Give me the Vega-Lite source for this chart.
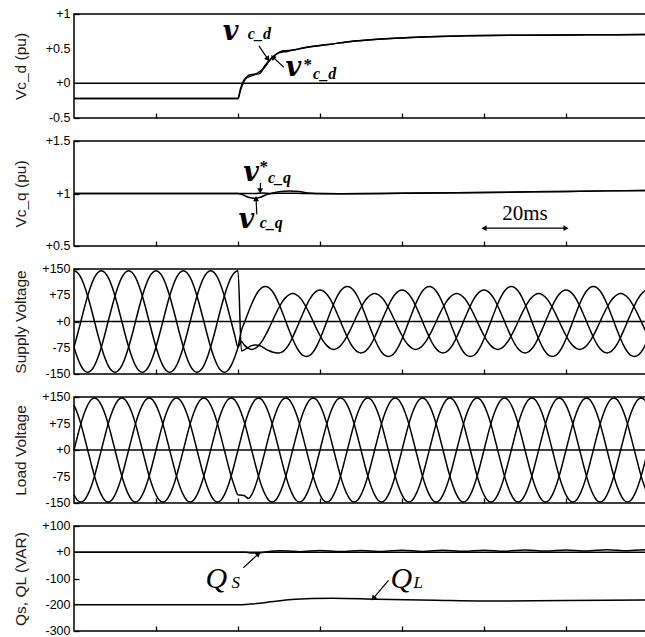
{
"$schema": "https://vega.github.io/schema/vega-lite/v6.json",
"padding": {"left": 12, "top": 7, "right": 0, "bottom": 0},
"spacing": 8,
"config": {
 "view": {"stroke": "#000", "strokeWidth": 1.5},
 "axis": {"grid": false, "domain": false, "titleFont": "Liberation Sans", "titleFontSize": 15.5, "titleFontWeight": "normal", "titleColor": "#1a1a1a", "tickColor": "#000", "tickWidth": 1.3},
 "axisY": {"tickSize": -5, "labels": false, "titleX": -49, "titleBaseline": "alphabetic"},
 "axisX": {"tickSize": -5, "labels": false},
 "line": {"color": "#000", "strokeWidth": 1.5, "clip": true},
 "text": {"color": "#000"}
},
"datasets": {
 "ylab": [
  {"p":"d","v":1,"lab":"+1"},{"p":"d","v":0.5,"lab":"+0.5"},{"p":"d","v":0,"lab":"+0"},{"p":"d","v":-0.5,"lab":"-0.5"},
  {"p":"q","v":1.5,"lab":"+1.5"},{"p":"q","v":1,"lab":"+1"},{"p":"q","v":0.5,"lab":"+0.5"},
  {"p":"s","v":150,"lab":"+150"},{"p":"s","v":75,"lab":"+75"},{"p":"s","v":0,"lab":"+0"},{"p":"s","v":-75,"lab":"-75"},{"p":"s","v":-150,"lab":"-150"},
  {"p":"Q","v":100,"lab":"+100"},{"p":"Q","v":0,"lab":"+0"},{"p":"Q","v":-100,"lab":"-100"},{"p":"Q","v":-200,"lab":"-200"},{"p":"Q","v":-300,"lab":"-300"}
 ],
 "slow": [
  {"p":"d","s":"vc","t":0,"v":-0.22},{"p":"d","s":"vc","t":40,"v":-0.22},{"p":"d","s":"vc","t":40.6,"v":-0.1},{"p":"d","s":"vc","t":41.5,"v":0.03},{"p":"d","s":"vc","t":42.7,"v":0.12},{"p":"d","s":"vc","t":44,"v":0.13},{"p":"d","s":"vc","t":45.3,"v":0.14},{"p":"d","s":"vc","t":46.5,"v":0.25},{"p":"d","s":"vc","t":48.5,"v":0.38},{"p":"d","s":"vc","t":50,"v":0.44},{"p":"d","s":"vc","t":52,"v":0.46},{"p":"d","s":"vc","t":55,"v":0.5},{"p":"d","s":"vc","t":58,"v":0.53},{"p":"d","s":"vc","t":62,"v":0.56},{"p":"d","s":"vc","t":67,"v":0.6},{"p":"d","s":"vc","t":75,"v":0.64},{"p":"d","s":"vc","t":85,"v":0.67},{"p":"d","s":"vc","t":95,"v":0.685},{"p":"d","s":"vc","t":110,"v":0.695},{"p":"d","s":"vc","t":125,"v":0.7},{"p":"d","s":"vc","t":140,"v":0.705},
  {"p":"d","s":"ref","t":0,"v":-0.22},{"p":"d","s":"ref","t":40,"v":-0.22},{"p":"d","s":"ref","t":40.6,"v":-0.08},{"p":"d","s":"ref","t":41.6,"v":0.06},{"p":"d","s":"ref","t":43,"v":0.1},{"p":"d","s":"ref","t":44.5,"v":0.14},{"p":"d","s":"ref","t":46,"v":0.2},{"p":"d","s":"ref","t":48,"v":0.35},{"p":"d","s":"ref","t":49.5,"v":0.43},{"p":"d","s":"ref","t":51,"v":0.47},{"p":"d","s":"ref","t":53.5,"v":0.48},{"p":"d","s":"ref","t":56,"v":0.51},{"p":"d","s":"ref","t":58,"v":0.53},{"p":"d","s":"ref","t":62,"v":0.56},{"p":"d","s":"ref","t":67,"v":0.6},{"p":"d","s":"ref","t":75,"v":0.64},{"p":"d","s":"ref","t":85,"v":0.67},{"p":"d","s":"ref","t":95,"v":0.685},{"p":"d","s":"ref","t":110,"v":0.695},{"p":"d","s":"ref","t":125,"v":0.7},{"p":"d","s":"ref","t":140,"v":0.705},
  {"p":"q","s":"vc","t":0,"v":1},{"p":"q","s":"vc","t":40,"v":1},{"p":"q","s":"vc","t":41,"v":0.99},{"p":"q","s":"vc","t":42.5,"v":0.965},{"p":"q","s":"vc","t":44,"v":0.955},{"p":"q","s":"vc","t":45.5,"v":0.965},{"p":"q","s":"vc","t":47,"v":0.99},{"p":"q","s":"vc","t":48.5,"v":1.005},{"p":"q","s":"vc","t":50.5,"v":1.02},{"p":"q","s":"vc","t":52.5,"v":1.025},{"p":"q","s":"vc","t":55,"v":1.018},{"p":"q","s":"vc","t":57,"v":1.005},{"p":"q","s":"vc","t":59,"v":1},{"p":"q","s":"vc","t":65,"v":0.998},{"p":"q","s":"vc","t":80,"v":1.003},{"p":"q","s":"vc","t":100,"v":1.01},{"p":"q","s":"vc","t":120,"v":1.02},{"p":"q","s":"vc","t":140,"v":1.03},
  {"p":"q","s":"ref","t":0,"v":1},{"p":"q","s":"ref","t":44,"v":1},{"p":"q","s":"ref","t":46,"v":1.005},{"p":"q","s":"ref","t":48,"v":1},{"p":"q","s":"ref","t":52,"v":1.003},{"p":"q","s":"ref","t":56,"v":1},{"p":"q","s":"ref","t":65,"v":0.998},{"p":"q","s":"ref","t":80,"v":1.003},{"p":"q","s":"ref","t":100,"v":1.01},{"p":"q","s":"ref","t":120,"v":1.02},{"p":"q","s":"ref","t":140,"v":1.03},
  {"p":"Q","s":"Qs","t":0,"v":0},{"p":"Q","s":"Qs","t":42,"v":0},{"p":"Q","s":"Qs","t":43.5,"v":-3},{"p":"Q","s":"Qs","t":45.5,"v":-2},{"p":"Q","s":"Qs","t":47.5,"v":3},{"p":"Q","s":"Qs","t":50,"v":6},{"p":"Q","s":"Qs","t":52.5,"v":5},{"p":"Q","s":"Qs","t":55,"v":2},{"p":"Q","s":"Qs","t":60,"v":7},{"p":"Q","s":"Qs","t":65,"v":3},{"p":"Q","s":"Qs","t":70,"v":7},{"p":"Q","s":"Qs","t":75,"v":3},{"p":"Q","s":"Qs","t":80,"v":8},{"p":"Q","s":"Qs","t":85,"v":3},{"p":"Q","s":"Qs","t":90,"v":8},{"p":"Q","s":"Qs","t":95,"v":4},{"p":"Q","s":"Qs","t":100,"v":8},{"p":"Q","s":"Qs","t":105,"v":4},{"p":"Q","s":"Qs","t":110,"v":9},{"p":"Q","s":"Qs","t":115,"v":5},{"p":"Q","s":"Qs","t":120,"v":9},{"p":"Q","s":"Qs","t":125,"v":5},{"p":"Q","s":"Qs","t":130,"v":10},{"p":"Q","s":"Qs","t":135,"v":6},{"p":"Q","s":"Qs","t":140,"v":10},
  {"p":"Q","s":"QL","t":0,"v":-200},{"p":"Q","s":"QL","t":41,"v":-200},{"p":"Q","s":"QL","t":44,"v":-196},{"p":"Q","s":"QL","t":48,"v":-189},{"p":"Q","s":"QL","t":53,"v":-180},{"p":"Q","s":"QL","t":58,"v":-176},{"p":"Q","s":"QL","t":63,"v":-175},{"p":"Q","s":"QL","t":74,"v":-179},{"p":"Q","s":"QL","t":88,"v":-183},{"p":"Q","s":"QL","t":100,"v":-186},{"p":"Q","s":"QL","t":120,"v":-184},{"p":"Q","s":"QL","t":140,"v":-182}
 ],
 "ann": [
  {"p":"d","k":"vbig","t":36.3,"v":0.62,"txt":"v"},
  {"p":"d","k":"vsub","t":42.4,"v":0.64,"txt":"c_d"},
  {"p":"d","k":"vbig","t":51.6,"v":0.1,"txt":"v"},
  {"p":"d","k":"star","t":57,"v":0.27,"txt":"*"},
  {"p":"d","k":"vsub","t":58.3,"v":0.06,"txt":"c_d"},
  {"p":"q","k":"vbig","t":41.3,"v":1.12,"txt":"v"},
  {"p":"q","k":"star","t":46.3,"v":1.25,"txt":"*"},
  {"p":"q","k":"vsub","t":47.3,"v":1.1,"txt":"c_q"},
  {"p":"q","k":"vbig","t":40.1,"v":0.67,"txt":"v"},
  {"p":"q","k":"vsub","t":45.3,"v":0.67,"txt":"c_q"},
  {"p":"q","k":"ms","t":110,"v":0.75,"txt":"20ms"},
  {"p":"Q","k":"Qbig","t":32.1,"v":-137,"txt":"Q"},
  {"p":"Q","k":"Qsub","t":38.4,"v":-137,"txt":"S"},
  {"p":"Q","k":"Qbig","t":77.2,"v":-137,"txt":"Q"},
  {"p":"Q","k":"Qsub","t":82.8,"v":-137,"txt":"L"}
 ],
 "arr": [
  {"id":"a1","p":"d","t":45.1,"v":0.54,"t2":47.3,"v2":0.35},
  {"id":"a2","p":"d","t":51.2,"v":0.23,"t2":48.5,"v2":0.38},
  {"id":"a3","p":"q","t":45.5,"v":1.1,"t2":45.4,"v2":1.025},
  {"id":"a4","p":"q","t":44.6,"v":0.8,"t2":44.4,"v2":0.95},
  {"id":"a5","p":"q","t":100,"v":0.67,"t2":120,"v2":0.67},
  {"id":"a6","p":"Q","t":41.3,"v":-59,"t2":45,"v2":-6},
  {"id":"a7","p":"Q","t":76.7,"v":-107,"t2":73,"v2":-176}
 ],
 "wave": [
{"t":0,"sa":145,"sb":-73,"sc":-73,"la":127,"lb":0,"lc":-127},
{"t":0.83,"sa":140,"sb":-38,"sc":-103,"la":104,"lb":38,"lc":-142},
{"t":1.67,"sa":126,"sb":0,"sc":-126,"la":74,"lb":74,"lc":-147},
{"t":2.5,"sa":103,"sb":38,"sc":-140,"la":38,"lb":104,"lc":-142},
{"t":3.33,"sa":73,"sb":73,"sc":-145,"la":0,"lb":127,"lc":-127},
{"t":4.17,"sa":38,"sb":103,"sc":-140,"la":-38,"lb":142,"lc":-104},
{"t":5,"sa":0,"sb":126,"sc":-126,"la":-74,"lb":147,"lc":-74},
{"t":5.83,"sa":-38,"sb":140,"sc":-103,"la":-104,"lb":142,"lc":-38},
{"t":6.67,"sa":-73,"sb":145,"sc":-73,"la":-127,"lb":127,"lc":0},
{"t":7.5,"sa":-103,"sb":140,"sc":-38,"la":-142,"lb":104,"lc":38},
{"t":8.33,"sa":-126,"sb":126,"sc":0,"la":-147,"lb":74,"lc":74},
{"t":9.17,"sa":-140,"sb":103,"sc":38,"la":-142,"lb":38,"lc":104},
{"t":10,"sa":-145,"sb":73,"sc":73,"la":-127,"lb":0,"lc":127},
{"t":10.83,"sa":-140,"sb":38,"sc":103,"la":-104,"lb":-38,"lc":142},
{"t":11.67,"sa":-126,"sb":0,"sc":126,"la":-74,"lb":-74,"lc":147},
{"t":12.5,"sa":-103,"sb":-38,"sc":140,"la":-38,"lb":-104,"lc":142},
{"t":13.33,"sa":-73,"sb":-73,"sc":145,"la":0,"lb":-127,"lc":127},
{"t":14.17,"sa":-38,"sb":-103,"sc":140,"la":38,"lb":-142,"lc":104},
{"t":15,"sa":0,"sb":-126,"sc":126,"la":74,"lb":-147,"lc":74},
{"t":15.83,"sa":38,"sb":-140,"sc":103,"la":104,"lb":-142,"lc":38},
{"t":16.67,"sa":73,"sb":-145,"sc":73,"la":127,"lb":-127,"lc":0},
{"t":17.5,"sa":103,"sb":-140,"sc":38,"la":142,"lb":-104,"lc":-38},
{"t":18.33,"sa":126,"sb":-126,"sc":0,"la":147,"lb":-74,"lc":-74},
{"t":19.17,"sa":140,"sb":-103,"sc":-38,"la":142,"lb":-38,"lc":-104},
{"t":20,"sa":145,"sb":-73,"sc":-73,"la":127,"lb":0,"lc":-127},
{"t":20.83,"sa":140,"sb":-38,"sc":-103,"la":104,"lb":38,"lc":-142},
{"t":21.67,"sa":126,"sb":0,"sc":-126,"la":74,"lb":74,"lc":-147},
{"t":22.5,"sa":103,"sb":38,"sc":-140,"la":38,"lb":104,"lc":-142},
{"t":23.33,"sa":73,"sb":73,"sc":-145,"la":0,"lb":127,"lc":-127},
{"t":24.17,"sa":38,"sb":103,"sc":-140,"la":-38,"lb":142,"lc":-104},
{"t":25,"sa":0,"sb":126,"sc":-126,"la":-74,"lb":147,"lc":-74},
{"t":25.83,"sa":-38,"sb":140,"sc":-103,"la":-104,"lb":142,"lc":-38},
{"t":26.67,"sa":-73,"sb":145,"sc":-73,"la":-127,"lb":127,"lc":0},
{"t":27.5,"sa":-103,"sb":140,"sc":-38,"la":-142,"lb":104,"lc":38},
{"t":28.33,"sa":-126,"sb":126,"sc":0,"la":-147,"lb":74,"lc":74},
{"t":29.17,"sa":-140,"sb":103,"sc":38,"la":-142,"lb":38,"lc":104},
{"t":30,"sa":-145,"sb":73,"sc":73,"la":-127,"lb":0,"lc":127},
{"t":30.83,"sa":-140,"sb":38,"sc":103,"la":-104,"lb":-38,"lc":142},
{"t":31.67,"sa":-126,"sb":0,"sc":126,"la":-74,"lb":-74,"lc":147},
{"t":32.5,"sa":-103,"sb":-38,"sc":140,"la":-38,"lb":-104,"lc":142},
{"t":33.33,"sa":-73,"sb":-73,"sc":145,"la":0,"lb":-127,"lc":127},
{"t":34.17,"sa":-38,"sb":-103,"sc":140,"la":38,"lb":-142,"lc":104},
{"t":35,"sa":0,"sb":-126,"sc":126,"la":74,"lb":-147,"lc":74},
{"t":35.83,"sa":38,"sb":-140,"sc":103,"la":104,"lb":-142,"lc":38},
{"t":36.67,"sa":73,"sb":-145,"sc":73,"la":127,"lb":-127,"lc":0},
{"t":37.5,"sa":103,"sb":-140,"sc":38,"la":142,"lb":-104,"lc":-38},
{"t":38.33,"sa":126,"sb":-126,"sc":0,"la":147,"lb":-74,"lc":-74},
{"t":39.17,"sa":140,"sb":-103,"sc":-38,"la":142,"lb":-38,"lc":-104},
{"t":40,"sa":145,"sb":-73,"sc":-73,"la":127,"lb":0,"lc":-127},
{"t":40.83,"sa":-84,"sb":-26,"sc":-57,"la":104,"lb":38,"lc":-128},
{"t":41.67,"sa":-80,"sb":0,"sc":-69,"la":74,"lb":74,"lc":-130},
{"t":42.5,"sa":-74,"sb":26,"sc":-77,"la":38,"lb":104,"lc":-137},
{"t":43.33,"sa":-69,"sb":50,"sc":-80,"la":0,"lb":127,"lc":-127},
{"t":44.17,"sa":-67,"sb":71,"sc":-77,"la":-38,"lb":142,"lc":-104},
{"t":45,"sa":-68,"sb":87,"sc":-69,"la":-74,"lb":147,"lc":-74},
{"t":45.83,"sa":-72,"sb":97,"sc":-57,"la":-104,"lb":142,"lc":-38},
{"t":46.67,"sa":-78,"sb":100,"sc":-40,"la":-127,"lb":127,"lc":0},
{"t":47.5,"sa":-83,"sb":97,"sc":-21,"la":-142,"lb":104,"lc":38},
{"t":48.33,"sa":-87,"sb":87,"sc":0,"la":-147,"lb":74,"lc":74},
{"t":49.17,"sa":-89,"sb":71,"sc":21,"la":-142,"lb":38,"lc":104},
{"t":50,"sa":-90,"sb":50,"sc":40,"la":-127,"lb":0,"lc":127},
{"t":50.83,"sa":-87,"sb":26,"sc":57,"la":-104,"lb":-38,"lc":142},
{"t":51.67,"sa":-78,"sb":0,"sc":69,"la":-74,"lb":-74,"lc":147},
{"t":52.5,"sa":-64,"sb":-26,"sc":77,"la":-38,"lb":-104,"lc":142},
{"t":53.33,"sa":-45,"sb":-50,"sc":80,"la":0,"lb":-127,"lc":127},
{"t":54.17,"sa":-23,"sb":-71,"sc":77,"la":38,"lb":-142,"lc":104},
{"t":55,"sa":0,"sb":-87,"sc":69,"la":74,"lb":-147,"lc":74},
{"t":55.83,"sa":23,"sb":-97,"sc":57,"la":104,"lb":-142,"lc":38},
{"t":56.67,"sa":45,"sb":-100,"sc":40,"la":127,"lb":-127,"lc":0},
{"t":57.5,"sa":64,"sb":-97,"sc":21,"la":142,"lb":-104,"lc":-38},
{"t":58.33,"sa":78,"sb":-87,"sc":0,"la":147,"lb":-74,"lc":-74},
{"t":59.17,"sa":87,"sb":-71,"sc":-21,"la":142,"lb":-38,"lc":-104},
{"t":60,"sa":90,"sb":-50,"sc":-40,"la":127,"lb":0,"lc":-127},
{"t":60.83,"sa":87,"sb":-26,"sc":-57,"la":104,"lb":38,"lc":-142},
{"t":61.67,"sa":78,"sb":0,"sc":-69,"la":74,"lb":74,"lc":-147},
{"t":62.5,"sa":64,"sb":26,"sc":-77,"la":38,"lb":104,"lc":-142},
{"t":63.33,"sa":45,"sb":50,"sc":-80,"la":0,"lb":127,"lc":-127},
{"t":64.17,"sa":23,"sb":71,"sc":-77,"la":-38,"lb":142,"lc":-104},
{"t":65,"sa":0,"sb":87,"sc":-69,"la":-74,"lb":147,"lc":-74},
{"t":65.83,"sa":-23,"sb":97,"sc":-57,"la":-104,"lb":142,"lc":-38},
{"t":66.67,"sa":-45,"sb":100,"sc":-40,"la":-127,"lb":127,"lc":0},
{"t":67.5,"sa":-64,"sb":97,"sc":-21,"la":-142,"lb":104,"lc":38},
{"t":68.33,"sa":-78,"sb":87,"sc":0,"la":-147,"lb":74,"lc":74},
{"t":69.17,"sa":-87,"sb":71,"sc":21,"la":-142,"lb":38,"lc":104},
{"t":70,"sa":-90,"sb":50,"sc":40,"la":-127,"lb":0,"lc":127},
{"t":70.83,"sa":-87,"sb":26,"sc":57,"la":-104,"lb":-38,"lc":142},
{"t":71.67,"sa":-78,"sb":0,"sc":69,"la":-74,"lb":-74,"lc":147},
{"t":72.5,"sa":-64,"sb":-26,"sc":77,"la":-38,"lb":-104,"lc":142},
{"t":73.33,"sa":-45,"sb":-50,"sc":80,"la":0,"lb":-127,"lc":127},
{"t":74.17,"sa":-23,"sb":-71,"sc":77,"la":38,"lb":-142,"lc":104},
{"t":75,"sa":0,"sb":-87,"sc":69,"la":74,"lb":-147,"lc":74},
{"t":75.83,"sa":23,"sb":-97,"sc":57,"la":104,"lb":-142,"lc":38},
{"t":76.67,"sa":45,"sb":-100,"sc":40,"la":127,"lb":-127,"lc":0},
{"t":77.5,"sa":64,"sb":-97,"sc":21,"la":142,"lb":-104,"lc":-38},
{"t":78.33,"sa":78,"sb":-87,"sc":0,"la":147,"lb":-74,"lc":-74},
{"t":79.17,"sa":87,"sb":-71,"sc":-21,"la":142,"lb":-38,"lc":-104},
{"t":80,"sa":90,"sb":-50,"sc":-40,"la":127,"lb":0,"lc":-127},
{"t":80.83,"sa":87,"sb":-26,"sc":-57,"la":104,"lb":38,"lc":-142},
{"t":81.67,"sa":78,"sb":0,"sc":-69,"la":74,"lb":74,"lc":-147},
{"t":82.5,"sa":64,"sb":26,"sc":-77,"la":38,"lb":104,"lc":-142},
{"t":83.33,"sa":45,"sb":50,"sc":-80,"la":0,"lb":127,"lc":-127},
{"t":84.17,"sa":23,"sb":71,"sc":-77,"la":-38,"lb":142,"lc":-104},
{"t":85,"sa":0,"sb":87,"sc":-69,"la":-74,"lb":147,"lc":-74},
{"t":85.83,"sa":-23,"sb":97,"sc":-57,"la":-104,"lb":142,"lc":-38},
{"t":86.67,"sa":-45,"sb":100,"sc":-40,"la":-127,"lb":127,"lc":0},
{"t":87.5,"sa":-64,"sb":97,"sc":-21,"la":-142,"lb":104,"lc":38},
{"t":88.33,"sa":-78,"sb":87,"sc":0,"la":-147,"lb":74,"lc":74},
{"t":89.17,"sa":-87,"sb":71,"sc":21,"la":-142,"lb":38,"lc":104},
{"t":90,"sa":-90,"sb":50,"sc":40,"la":-127,"lb":0,"lc":127},
{"t":90.83,"sa":-87,"sb":26,"sc":57,"la":-104,"lb":-38,"lc":142},
{"t":91.67,"sa":-78,"sb":0,"sc":69,"la":-74,"lb":-74,"lc":147},
{"t":92.5,"sa":-64,"sb":-26,"sc":77,"la":-38,"lb":-104,"lc":142},
{"t":93.33,"sa":-45,"sb":-50,"sc":80,"la":0,"lb":-127,"lc":127},
{"t":94.17,"sa":-23,"sb":-71,"sc":77,"la":38,"lb":-142,"lc":104},
{"t":95,"sa":0,"sb":-87,"sc":69,"la":74,"lb":-147,"lc":74},
{"t":95.83,"sa":23,"sb":-97,"sc":57,"la":104,"lb":-142,"lc":38},
{"t":96.67,"sa":45,"sb":-100,"sc":40,"la":127,"lb":-127,"lc":0},
{"t":97.5,"sa":64,"sb":-97,"sc":21,"la":142,"lb":-104,"lc":-38},
{"t":98.33,"sa":78,"sb":-87,"sc":0,"la":147,"lb":-74,"lc":-74},
{"t":99.17,"sa":87,"sb":-71,"sc":-21,"la":142,"lb":-38,"lc":-104},
{"t":100,"sa":90,"sb":-50,"sc":-40,"la":127,"lb":0,"lc":-127},
{"t":100.83,"sa":87,"sb":-26,"sc":-57,"la":104,"lb":38,"lc":-142},
{"t":101.67,"sa":78,"sb":0,"sc":-69,"la":74,"lb":74,"lc":-147},
{"t":102.5,"sa":64,"sb":26,"sc":-77,"la":38,"lb":104,"lc":-142},
{"t":103.33,"sa":45,"sb":50,"sc":-80,"la":0,"lb":127,"lc":-127},
{"t":104.17,"sa":23,"sb":71,"sc":-77,"la":-38,"lb":142,"lc":-104},
{"t":105,"sa":0,"sb":87,"sc":-69,"la":-74,"lb":147,"lc":-74},
{"t":105.83,"sa":-23,"sb":97,"sc":-57,"la":-104,"lb":142,"lc":-38},
{"t":106.67,"sa":-45,"sb":100,"sc":-40,"la":-127,"lb":127,"lc":0},
{"t":107.5,"sa":-64,"sb":97,"sc":-21,"la":-142,"lb":104,"lc":38},
{"t":108.33,"sa":-78,"sb":87,"sc":0,"la":-147,"lb":74,"lc":74},
{"t":109.17,"sa":-87,"sb":71,"sc":21,"la":-142,"lb":38,"lc":104},
{"t":110,"sa":-90,"sb":50,"sc":40,"la":-127,"lb":0,"lc":127},
{"t":110.83,"sa":-87,"sb":26,"sc":57,"la":-104,"lb":-38,"lc":142},
{"t":111.67,"sa":-78,"sb":0,"sc":69,"la":-74,"lb":-74,"lc":147},
{"t":112.5,"sa":-64,"sb":-26,"sc":77,"la":-38,"lb":-104,"lc":142},
{"t":113.33,"sa":-45,"sb":-50,"sc":80,"la":0,"lb":-127,"lc":127},
{"t":114.17,"sa":-23,"sb":-71,"sc":77,"la":38,"lb":-142,"lc":104},
{"t":115,"sa":0,"sb":-87,"sc":69,"la":74,"lb":-147,"lc":74},
{"t":115.83,"sa":23,"sb":-97,"sc":57,"la":104,"lb":-142,"lc":38},
{"t":116.67,"sa":45,"sb":-100,"sc":40,"la":127,"lb":-127,"lc":0},
{"t":117.5,"sa":64,"sb":-97,"sc":21,"la":142,"lb":-104,"lc":-38},
{"t":118.33,"sa":78,"sb":-87,"sc":0,"la":147,"lb":-74,"lc":-74},
{"t":119.17,"sa":87,"sb":-71,"sc":-21,"la":142,"lb":-38,"lc":-104},
{"t":120,"sa":90,"sb":-50,"sc":-40,"la":127,"lb":0,"lc":-127},
{"t":120.83,"sa":87,"sb":-26,"sc":-57,"la":104,"lb":38,"lc":-142},
{"t":121.67,"sa":78,"sb":0,"sc":-69,"la":74,"lb":74,"lc":-147},
{"t":122.5,"sa":64,"sb":26,"sc":-77,"la":38,"lb":104,"lc":-142},
{"t":123.33,"sa":45,"sb":50,"sc":-80,"la":0,"lb":127,"lc":-127},
{"t":124.17,"sa":23,"sb":71,"sc":-77,"la":-38,"lb":142,"lc":-104},
{"t":125,"sa":0,"sb":87,"sc":-69,"la":-74,"lb":147,"lc":-74},
{"t":125.83,"sa":-23,"sb":97,"sc":-57,"la":-104,"lb":142,"lc":-38},
{"t":126.67,"sa":-45,"sb":100,"sc":-40,"la":-127,"lb":127,"lc":0},
{"t":127.5,"sa":-64,"sb":97,"sc":-21,"la":-142,"lb":104,"lc":38},
{"t":128.33,"sa":-78,"sb":87,"sc":0,"la":-147,"lb":74,"lc":74},
{"t":129.17,"sa":-87,"sb":71,"sc":21,"la":-142,"lb":38,"lc":104},
{"t":130,"sa":-90,"sb":50,"sc":40,"la":-127,"lb":0,"lc":127},
{"t":130.83,"sa":-87,"sb":26,"sc":57,"la":-104,"lb":-38,"lc":142},
{"t":131.67,"sa":-78,"sb":0,"sc":69,"la":-74,"lb":-74,"lc":147},
{"t":132.5,"sa":-64,"sb":-26,"sc":77,"la":-38,"lb":-104,"lc":142},
{"t":133.33,"sa":-45,"sb":-50,"sc":80,"la":0,"lb":-127,"lc":127},
{"t":134.17,"sa":-23,"sb":-71,"sc":77,"la":38,"lb":-142,"lc":104},
{"t":135,"sa":0,"sb":-87,"sc":69,"la":74,"lb":-147,"lc":74},
{"t":135.83,"sa":23,"sb":-97,"sc":57,"la":104,"lb":-142,"lc":38},
{"t":136.67,"sa":45,"sb":-100,"sc":40,"la":127,"lb":-127,"lc":0},
{"t":137.5,"sa":64,"sb":-97,"sc":21,"la":142,"lb":-104,"lc":-38},
{"t":138.33,"sa":78,"sb":-87,"sc":0,"la":147,"lb":-74,"lc":-74},
{"t":139.17,"sa":87,"sb":-71,"sc":-21,"la":142,"lb":-38,"lc":-104},
{"t":140,"sa":90,"sb":-50,"sc":-40,"la":127,"lb":0,"lc":-127}
 ]
},
"vconcat": [
 {"width": 574, "height": 104, "layer": [
  {"data": {"name": "slow"}, "transform": [{"filter": "datum.p == 'd'"}], "mark": {"type": "line", "interpolate": "monotone"},
   "encoding": {"x": {"field": "t", "type": "quantitative", "scale": {"domain": [0, 140], "nice": false}, "axis": {"values": [20,40,60,80,100,120], "title": null}},
    "y": {"field": "v", "type": "quantitative", "scale": {"domain": [-0.5, 1], "nice": false}, "axis": {"title": "Vc_d (pu)", "values": [-0.5,0,0.5,1]}},
    "detail": {"field": "s"}}},
  {"data": {"name": "ylab"}, "transform": [{"filter": "datum.p == 'd'"}], "mark": {"type": "text", "align": "right", "baseline": "middle", "dx": -3.5, "font": "Liberation Sans", "fontSize": 12.5}, "encoding": {"x": {"datum": 0, "type": "quantitative"}, "y": {"field": "v", "type": "quantitative"}, "text": {"field": "lab"}}},
  {"data": {"values": [{"v": 0}]}, "mark": {"type": "rule", "color": "#000", "strokeWidth": 1.5}, "encoding": {"y": {"field": "v", "type": "quantitative"}}},
  {"data": {"name": "ann"}, "transform": [{"filter": "datum.p == 'd' && datum.k == 'vbig'"}], "mark": {"type": "text", "font": "DejaVu Serif", "fontStyle": "italic", "fontWeight": "bold", "fontSize": 27, "align": "left", "baseline": "alphabetic"}, "encoding": {"x": {"field": "t", "type": "quantitative"}, "y": {"field": "v", "type": "quantitative"}, "text": {"field": "txt"}}},
  {"data": {"name": "ann"}, "transform": [{"filter": "datum.p == 'd' && datum.k == 'vsub'"}], "mark": {"type": "text", "font": "Liberation Serif", "fontStyle": "italic", "fontWeight": "bold", "fontSize": 16, "align": "left", "baseline": "alphabetic"}, "encoding": {"x": {"field": "t", "type": "quantitative"}, "y": {"field": "v", "type": "quantitative"}, "text": {"field": "txt"}}},
  {"data": {"name": "ann"}, "transform": [{"filter": "datum.p == 'd' && datum.k == 'star'"}], "mark": {"type": "text", "font": "Liberation Serif", "fontWeight": "bold", "fontSize": 17, "align": "center", "baseline": "middle"}, "encoding": {"x": {"field": "t", "type": "quantitative"}, "y": {"field": "v", "type": "quantitative"}, "text": {"field": "txt"}}},
  {"data": {"name": "arr"}, "transform": [{"filter": "datum.p == 'd'"}], "mark": {"type": "rule", "color": "#000", "strokeWidth": 1.2}, "encoding": {"x": {"field": "t", "type": "quantitative"}, "y": {"field": "v", "type": "quantitative"}, "x2": {"field": "t2"}, "y2": {"field": "v2"}}},
  {"data": {"name": "arr"}, "transform": [{"filter": "datum.id == 'a1'"}], "mark": {"type": "point", "shape": "triangle-up", "filled": true, "color": "#000", "opacity": 1, "size": 35, "angle": 145}, "encoding": {"x": {"field": "t2", "type": "quantitative"}, "y": {"field": "v2", "type": "quantitative"}}},
  {"data": {"name": "arr"}, "transform": [{"filter": "datum.id == 'a2'"}], "mark": {"type": "point", "shape": "triangle-up", "filled": true, "color": "#000", "opacity": 1, "size": 35, "angle": 315}, "encoding": {"x": {"field": "t2", "type": "quantitative"}, "y": {"field": "v2", "type": "quantitative"}}}
 ]},
 {"width": 574, "height": 105, "layer": [
  {"data": {"name": "slow"}, "transform": [{"filter": "datum.p == 'q'"}], "mark": {"type": "line", "interpolate": "monotone"},
   "encoding": {"x": {"field": "t", "type": "quantitative", "scale": {"domain": [0, 140], "nice": false}, "axis": {"values": [20,40,60,80,100,120], "title": null}},
    "y": {"field": "v", "type": "quantitative", "scale": {"domain": [0.5, 1.5], "nice": false}, "axis": {"title": "Vc_q (pu)", "values": [0.5,1,1.5]}},
    "detail": {"field": "s"}}},
  {"data": {"name": "ylab"}, "transform": [{"filter": "datum.p == 'q'"}], "mark": {"type": "text", "align": "right", "baseline": "middle", "dx": -3.5, "font": "Liberation Sans", "fontSize": 12.5}, "encoding": {"x": {"datum": 0, "type": "quantitative"}, "y": {"field": "v", "type": "quantitative"}, "text": {"field": "lab"}}},
  {"data": {"name": "ann"}, "transform": [{"filter": "datum.p == 'q' && datum.k == 'vbig'"}], "mark": {"type": "text", "font": "DejaVu Serif", "fontStyle": "italic", "fontWeight": "bold", "fontSize": 27, "align": "left", "baseline": "alphabetic"}, "encoding": {"x": {"field": "t", "type": "quantitative"}, "y": {"field": "v", "type": "quantitative"}, "text": {"field": "txt"}}},
  {"data": {"name": "ann"}, "transform": [{"filter": "datum.p == 'q' && datum.k == 'vsub'"}], "mark": {"type": "text", "font": "Liberation Serif", "fontStyle": "italic", "fontWeight": "bold", "fontSize": 16, "align": "left", "baseline": "alphabetic"}, "encoding": {"x": {"field": "t", "type": "quantitative"}, "y": {"field": "v", "type": "quantitative"}, "text": {"field": "txt"}}},
  {"data": {"name": "ann"}, "transform": [{"filter": "datum.p == 'q' && datum.k == 'star'"}], "mark": {"type": "text", "font": "Liberation Serif", "fontWeight": "bold", "fontSize": 17, "align": "center", "baseline": "middle"}, "encoding": {"x": {"field": "t", "type": "quantitative"}, "y": {"field": "v", "type": "quantitative"}, "text": {"field": "txt"}}},
  {"data": {"name": "ann"}, "transform": [{"filter": "datum.p == 'q' && datum.k == 'ms'"}], "mark": {"type": "text", "font": "Liberation Serif", "fontSize": 21, "align": "center", "baseline": "alphabetic"}, "encoding": {"x": {"field": "t", "type": "quantitative"}, "y": {"field": "v", "type": "quantitative"}, "text": {"field": "txt"}}},
  {"data": {"name": "arr"}, "transform": [{"filter": "datum.p == 'q'"}], "mark": {"type": "rule", "color": "#000", "strokeWidth": 1.2}, "encoding": {"x": {"field": "t", "type": "quantitative"}, "y": {"field": "v", "type": "quantitative"}, "x2": {"field": "t2"}, "y2": {"field": "v2"}}},
  {"data": {"name": "arr"}, "transform": [{"filter": "datum.id == 'a3'"}], "mark": {"type": "point", "shape": "triangle-up", "filled": true, "color": "#000", "opacity": 1, "size": 35, "angle": 180}, "encoding": {"x": {"field": "t2", "type": "quantitative"}, "y": {"field": "v2", "type": "quantitative"}}},
  {"data": {"name": "arr"}, "transform": [{"filter": "datum.id == 'a4'"}], "mark": {"type": "point", "shape": "triangle-up", "filled": true, "color": "#000", "opacity": 1, "size": 35, "angle": 0}, "encoding": {"x": {"field": "t2", "type": "quantitative"}, "y": {"field": "v2", "type": "quantitative"}}},
  {"data": {"name": "arr"}, "transform": [{"filter": "datum.id == 'a5'"}], "mark": {"type": "point", "shape": "triangle-up", "filled": true, "color": "#000", "opacity": 1, "size": 35, "angle": 90}, "encoding": {"x": {"field": "t2", "type": "quantitative"}, "y": {"field": "v2", "type": "quantitative"}}},
  {"data": {"name": "arr"}, "transform": [{"filter": "datum.id == 'a5'"}], "mark": {"type": "point", "shape": "triangle-up", "filled": true, "color": "#000", "opacity": 1, "size": 35, "angle": 270}, "encoding": {"x": {"field": "t", "type": "quantitative"}, "y": {"field": "v", "type": "quantitative"}}}
 ]},
 {"width": 574, "height": 105, "layer": [
  {"data": {"name": "wave"}, "transform": [{"fold": ["sa","sb","sc"], "as": ["ph","v"]}], "mark": {"type": "line", "interpolate": "monotone"},
   "encoding": {"x": {"field": "t", "type": "quantitative", "scale": {"domain": [0, 140], "nice": false}, "axis": {"values": [20,40,60,80,100,120], "title": null}},
    "y": {"field": "v", "type": "quantitative", "scale": {"domain": [-150, 150], "nice": false}, "axis": {"title": "Supply Voltage", "values": [-150,-75,0,75,150]}},
    "detail": {"field": "ph"}}},
  {"data": {"name": "ylab"}, "transform": [{"filter": "datum.p == 's'"}], "mark": {"type": "text", "align": "right", "baseline": "middle", "dx": -3.5, "font": "Liberation Sans", "fontSize": 12.5}, "encoding": {"x": {"datum": 0, "type": "quantitative"}, "y": {"field": "v", "type": "quantitative"}, "text": {"field": "lab"}}},
  {"data": {"values": [{"v": 0}]}, "mark": {"type": "rule", "color": "#000", "strokeWidth": 1.5}, "encoding": {"y": {"field": "v", "type": "quantitative"}}}
 ]},
 {"width": 574, "height": 106, "layer": [
  {"data": {"name": "wave"}, "transform": [{"fold": ["la","lb","lc"], "as": ["ph","v"]}], "mark": {"type": "line", "interpolate": "monotone"},
   "encoding": {"x": {"field": "t", "type": "quantitative", "scale": {"domain": [0, 140], "nice": false}, "axis": {"values": [20,40,60,80,100,120], "title": null}},
    "y": {"field": "v", "type": "quantitative", "scale": {"domain": [-150, 150], "nice": false}, "axis": {"title": "Load Voltage", "values": [-150,-75,0,75,150]}},
    "detail": {"field": "ph"}}},
  {"data": {"name": "ylab"}, "transform": [{"filter": "datum.p == 's'"}], "mark": {"type": "text", "align": "right", "baseline": "middle", "dx": -3.5, "font": "Liberation Sans", "fontSize": 12.5}, "encoding": {"x": {"datum": 0, "type": "quantitative"}, "y": {"field": "v", "type": "quantitative"}, "text": {"field": "lab"}}},
  {"data": {"values": [{"v": 0}]}, "mark": {"type": "rule", "color": "#000", "strokeWidth": 1.5}, "encoding": {"y": {"field": "v", "type": "quantitative"}}}
 ]},
 {"width": 574, "height": 105, "layer": [
  {"data": {"name": "slow"}, "transform": [{"filter": "datum.p == 'Q'"}], "mark": {"type": "line", "interpolate": "monotone"},
   "encoding": {"x": {"field": "t", "type": "quantitative", "scale": {"domain": [0, 140], "nice": false}, "axis": {"values": [20,40,60,80,100,120], "title": null}},
    "y": {"field": "v", "type": "quantitative", "scale": {"domain": [-300, 100], "nice": false}, "axis": {"title": "Qs, QL (VAR)", "values": [-300,-200,-100,0,100]}},
    "detail": {"field": "s"}}},
  {"data": {"name": "ylab"}, "transform": [{"filter": "datum.p == 'Q'"}], "mark": {"type": "text", "align": "right", "baseline": "middle", "dx": -3.5, "font": "Liberation Sans", "fontSize": 12.5}, "encoding": {"x": {"datum": 0, "type": "quantitative"}, "y": {"field": "v", "type": "quantitative"}, "text": {"field": "lab"}}},
  {"data": {"values": [{"v": 0}]}, "mark": {"type": "rule", "color": "#000", "strokeWidth": 1.5}, "encoding": {"y": {"field": "v", "type": "quantitative"}}},
  {"data": {"name": "ann"}, "transform": [{"filter": "datum.p == 'Q' && datum.k == 'Qbig'"}], "mark": {"type": "text", "font": "Liberation Serif", "fontStyle": "italic", "fontSize": 30, "align": "left", "baseline": "alphabetic"}, "encoding": {"x": {"field": "t", "type": "quantitative"}, "y": {"field": "v", "type": "quantitative"}, "text": {"field": "txt"}}},
  {"data": {"name": "ann"}, "transform": [{"filter": "datum.p == 'Q' && datum.k == 'Qsub'"}], "mark": {"type": "text", "font": "Liberation Serif", "fontStyle": "italic", "fontSize": 17, "align": "left", "baseline": "alphabetic"}, "encoding": {"x": {"field": "t", "type": "quantitative"}, "y": {"field": "v", "type": "quantitative"}, "text": {"field": "txt"}}},
  {"data": {"name": "arr"}, "transform": [{"filter": "datum.p == 'Q'"}], "mark": {"type": "rule", "color": "#000", "strokeWidth": 1.2}, "encoding": {"x": {"field": "t", "type": "quantitative"}, "y": {"field": "v", "type": "quantitative"}, "x2": {"field": "t2"}, "y2": {"field": "v2"}}},
  {"data": {"name": "arr"}, "transform": [{"filter": "datum.id == 'a6'"}], "mark": {"type": "point", "shape": "triangle-up", "filled": true, "color": "#000", "opacity": 1, "size": 35, "angle": 47}, "encoding": {"x": {"field": "t2", "type": "quantitative"}, "y": {"field": "v2", "type": "quantitative"}}},
  {"data": {"name": "arr"}, "transform": [{"filter": "datum.id == 'a7'"}], "mark": {"type": "point", "shape": "triangle-up", "filled": true, "color": "#000", "opacity": 1, "size": 35, "angle": 218}, "encoding": {"x": {"field": "t2", "type": "quantitative"}, "y": {"field": "v2", "type": "quantitative"}}}
 ]}
]
}
